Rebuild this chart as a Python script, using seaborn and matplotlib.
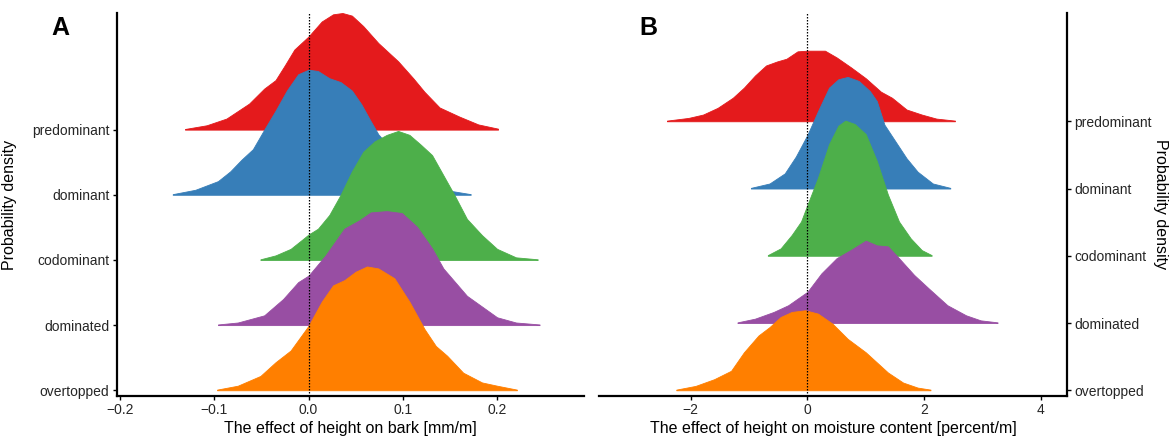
import numpy as np
import pandas as pd
import matplotlib
matplotlib.use("Agg")
import matplotlib.pyplot as plt
import seaborn as sns

# ---------------- data ----------------
categories = ["predominant", "dominant", "codominant", "dominated", "overtopped"]
row_index = [4, 3, 2, 1, 0]

# Panel A: effect of height on bark [mm/m]; heights are scaled density (row units)
bark_x_predominant = [-0.131, -0.108, -0.087, -0.063, -0.047, -0.035, -0.025, -0.015, 0.0, 0.014, 0.026, 0.036,
                      0.046, 0.058, 0.074, 0.095, 0.111, 0.123, 0.139, 0.160, 0.180, 0.201]
bark_d_predominant = [0.01, 0.067, 0.17, 0.40, 0.63, 0.76, 0.99, 1.23, 1.43, 1.66, 1.77, 1.79,
                      1.75, 1.59, 1.33, 1.05, 0.79, 0.58, 0.34, 0.20, 0.08, 0.015]
bark_x_dominant = [-0.144, -0.120, -0.096, -0.083, -0.071, -0.059, -0.047, -0.035, -0.023, -0.011, 0.0, 0.010,
                   0.022, 0.034, 0.046, 0.056, 0.066, 0.074, 0.090, 0.110, 0.130, 0.151, 0.172]
bark_d_dominant = [0.01, 0.077, 0.21, 0.36, 0.54, 0.70, 1.0, 1.29, 1.60, 1.85, 1.92, 1.90,
                   1.79, 1.73, 1.60, 1.39, 1.13, 0.93, 0.66, 0.38, 0.17, 0.06, 0.01]
bark_x_codominant = [-0.051, -0.035, -0.019, -0.006, 0.0, 0.010, 0.022, 0.034, 0.046, 0.058, 0.070, 0.083,
                     0.095, 0.107, 0.119, 0.131, 0.143, 0.155, 0.168, 0.184, 0.200, 0.220, 0.243]
bark_d_codominant = [0.01, 0.07, 0.17, 0.32, 0.39, 0.48, 0.69, 1.0, 1.36, 1.66, 1.82, 1.92,
                     1.98, 1.92, 1.77, 1.61, 1.30, 0.99, 0.63, 0.38, 0.17, 0.04, 0.01]
bark_x_dominated = [-0.096, -0.075, -0.047, -0.027, -0.011, 0.0, 0.018, 0.038, 0.054, 0.066, 0.083, 0.099,
                    0.115, 0.131, 0.143, 0.168, 0.200, 0.220, 0.245]
bark_d_dominated = [0.01, 0.04, 0.15, 0.40, 0.66, 0.76, 1.07, 1.48, 1.61, 1.73, 1.75, 1.72,
                    1.51, 1.18, 0.87, 0.45, 0.12, 0.04, 0.01]
bark_x_overtopped = [-0.097, -0.075, -0.051, -0.035, -0.019, 0.0, 0.014, 0.026, 0.038, 0.050, 0.062, 0.074,
                     0.091, 0.107, 0.123, 0.135, 0.147, 0.164, 0.184, 0.200, 0.221]
bark_d_overtopped = [0.01, 0.07, 0.22, 0.43, 0.61, 0.99, 1.36, 1.61, 1.69, 1.82, 1.90, 1.87,
                     1.72, 1.36, 0.94, 0.68, 0.53, 0.27, 0.12, 0.07, 0.01]

# Panel B: effect of height on moisture content [percent/m]
moist_x_predominant = [-2.41, -2.04, -1.79, -1.54, -1.28, -1.09, -0.90, -0.71, -0.52, -0.36, -0.17, 0.0,
                       0.15, 0.30, 0.50, 0.75, 1.00, 1.26, 1.45, 1.70, 1.96, 2.21, 2.53]
moist_d_predominant = [0.01, 0.05, 0.10, 0.20, 0.35, 0.50, 0.68, 0.83, 0.89, 0.93, 1.04, 1.05,
                       1.05, 1.05, 0.95, 0.80, 0.64, 0.44, 0.35, 0.175, 0.10, 0.04, 0.01]
moist_x_dominant = [-0.97, -0.65, -0.39, -0.20, 0.0, 0.18, 0.37, 0.53, 0.69, 0.88, 1.07, 1.19,
                    1.32, 1.51, 1.70, 1.89, 2.15, 2.45]
moist_d_dominant = [0.01, 0.075, 0.225, 0.475, 0.80, 1.15, 1.50, 1.625, 1.66, 1.60, 1.45, 1.30,
                    0.95, 0.70, 0.45, 0.25, 0.075, 0.01]
moist_x_codominant = [-0.68, -0.46, -0.27, -0.11, 0.0, 0.18, 0.37, 0.53, 0.65, 0.81, 1.00, 1.19,
                      1.38, 1.57, 1.77, 1.96, 2.13]
moist_d_codominant = [0.01, 0.11, 0.31, 0.51, 0.76, 1.16, 1.66, 1.935, 2.01, 1.96, 1.81, 1.41,
                      0.91, 0.51, 0.26, 0.085, 0.01]
moist_x_dominated = [-1.20, -0.90, -0.58, -0.33, 0.0, 0.24, 0.50, 0.75, 1.00, 1.19, 1.38, 1.57,
                     1.83, 2.08, 2.40, 2.72, 2.97, 3.26]
moist_d_dominated = [0.01, 0.065, 0.165, 0.265, 0.465, 0.74, 0.965, 1.09, 1.225, 1.155, 1.14, 0.965,
                     0.715, 0.515, 0.265, 0.115, 0.04, 0.01]
moist_x_overtopped = [-2.25, -1.92, -1.60, -1.31, -1.09, -0.84, -0.65, -0.46, -0.27, -0.04, 0.18, 0.43,
                      0.69, 1.00, 1.19, 1.38, 1.64, 1.89, 2.11]
moist_d_overtopped = [0.01, 0.065, 0.165, 0.29, 0.565, 0.815, 0.94, 1.09, 1.165, 1.19, 1.14, 0.99,
                      0.765, 0.565, 0.415, 0.265, 0.115, 0.04, 0.01]

bark_xticks = [-0.2, -0.1, 0.0, 0.1, 0.2]
moist_xticks = [-2, 0, 2, 4]

# ---------------- build tables ----------------
def build(xs, ds):
    frames = []
    for cat, idx, x, d in zip(categories, row_index, xs, ds):
        frames.append(pd.DataFrame({"category": cat, "row": idx, "x": x, "density": d}))
    return pd.concat(frames, ignore_index=True)

bark_df = build([bark_x_predominant, bark_x_dominant, bark_x_codominant, bark_x_dominated, bark_x_overtopped],
                [bark_d_predominant, bark_d_dominant, bark_d_codominant, bark_d_dominated, bark_d_overtopped])
moist_df = build([moist_x_predominant, moist_x_dominant, moist_x_codominant, moist_x_dominated, moist_x_overtopped],
                 [moist_d_predominant, moist_d_dominant, moist_d_codominant, moist_d_dominated, moist_d_overtopped])

# ---------------- style ----------------
sns.set_theme(style="ticks")
plt.rcParams['font.family'] = ['Liberation Sans', 'DejaVu Sans']
plt.rcParams['text.color'] = 'black'
plt.rcParams['axes.labelcolor'] = 'black'
palette = dict(zip(categories, sns.color_palette("Set1", 5)))

W, H = 1175, 437
fig = plt.figure(figsize=(W / 100, H / 100), dpi=100)
fig.patch.set_facecolor("white")

axA = fig.add_axes([116.5 / W, 41 / H, (583.5 - 116.5) / W, 383 / H])
axB = fig.add_axes([599.3 / W, 41 / H, (1066.9 - 599.3) / W, 383 / H])


def ridges(ax, df):
    for z, cat in enumerate(categories):
        sub = df[df["category"] == cat]
        base = sub["row"].to_numpy()
        top = base + sub["density"].to_numpy()
        ax.fill_between(sub["x"], base, top, color=palette[cat], lw=0.6,
                        edgecolor=palette[cat], zorder=2 + z)
    ax.axvline(0, color="black", lw=0.9, ls=(0, (1.2, 1.2)), zorder=20)
    ax.set_yticks(row_index)
    ax.set_yticklabels(categories)
    ax.set_facecolor("white")
    ax.grid(False)
    ax.tick_params(axis="both", length=3.0, width=1.0, color="black",
                   labelsize=10, labelcolor="#262626", pad=2.2)
    for s in ax.spines.values():
        s.set_linewidth(1.6)
        s.set_color("black")


ridges(axA, bark_df)
axA.set_xlim(-0.2036, 0.2916)
axA.set_ylim(-0.088, 5.79)
axA.set_xticks(bark_xticks)
axA.set_xticklabels([f"{v:.1f}".replace("-", "\u2212") for v in bark_xticks])
axA.spines["top"].set_visible(False)
axA.spines["right"].set_visible(False)
axA.set_xlabel("The effect of height on bark [mm/m]", fontsize=11.5, color="black")
axA.set_ylabel("Probability density", fontsize=11.5, color="black")
axA.xaxis.set_label_coords(0.5, -0.065)
axA.yaxis.set_label_coords(-0.213, 0.5)

ridges(axB, moist_df)
axB.set_xlim(-3.57, 4.45)
axB.set_ylim(-0.085, 5.61)
axB.set_xticks(moist_xticks)
axB.set_xticklabels([str(v).replace("-", "\u2212") for v in moist_xticks])
axB.yaxis.tick_right()
axB.yaxis.set_label_position("right")
axB.spines["top"].set_visible(False)
axB.spines["left"].set_visible(False)
axB.set_xlabel("The effect of height on moisture content [percent/m]", fontsize=11.5, color="black")
axB.set_ylabel("Probability density", fontsize=11.5, color="black", rotation=270, va="center")
axB.xaxis.set_label_coords(0.5, -0.065)
axB.yaxis.set_label_coords(1.201, 0.5)

fig.text(60 / W, 1 - 28 / H, "A", fontsize=18, fontweight="bold", color="black", ha="center", va="center")
fig.text(648 / W, 1 - 28 / H, "B", fontsize=18, fontweight="bold", color="black", ha="center", va="center")

fig.savefig("out.png", dpi=100, facecolor="white")
